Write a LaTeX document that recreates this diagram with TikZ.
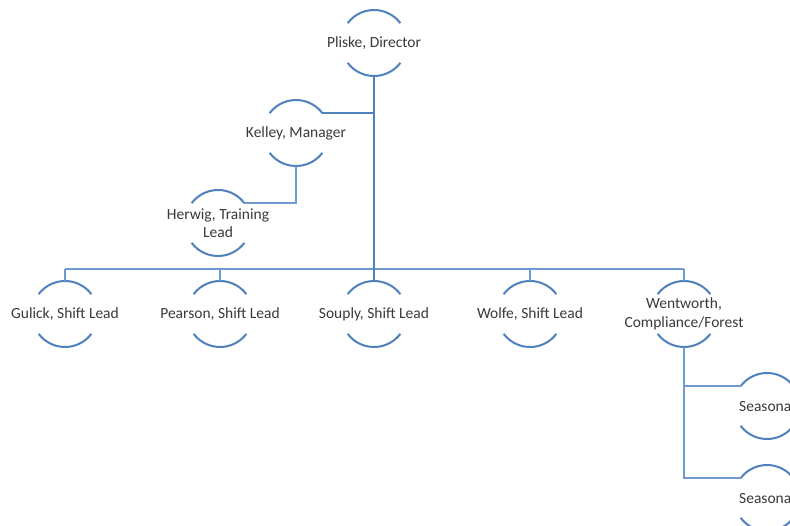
\documentclass[tikz,border=0pt]{standalone}
\usepackage{fontspec}
\setmainfont{Carlito}
\definecolor{linec}{HTML}{4F81BD}
\definecolor{busc}{HTML}{6E9BCF}
\definecolor{txtc}{HTML}{3A3A3A}
\tikzset{
  ring/.style={circle, draw=none, minimum size=66pt, inner sep=0pt, outer sep=0pt},
  txt/.style={font=\fontsize{15.5}{18.5}\selectfont, text=txtc, align=center, inner sep=0pt},
  arcline/.style={draw=linec, line width=2pt},
  trunk/.style={draw=linec, line width=2.2pt},
  conn/.style={draw=busc, line width=1.6pt}
}
\newcommand\orgperson[3]{%
  \node[ring] (#1) at (#2) {};
  \node[txt] (#1-t) at (#1.center) {#3};
  \draw[arcline] (#1.143) arc[start angle=143, end angle=37, radius=33pt];
  \draw[arcline] (#1.217) arc[start angle=217, end angle=323, radius=33pt];
}
\begin{document}
\begin{tikzpicture}[x=1pt,y=1pt]
\clip (0,0) rectangle (790,-525);
\fill[white] (0,0) rectangle (790,-525);
\orgperson{pliske}{374,-43}{Pliske, Director}
\orgperson{kelley}{296,-133}{Kelley, Manager}
\orgperson{herwig}{218,-223}{Herwig, Training\\Lead}
\orgperson{gulick}{65,-314}{Gulick, Shift Lead}
\orgperson{pearson}{220,-314}{Pearson, Shift Lead}
\orgperson{souply}{374,-314}{Souply, Shift Lead}
\orgperson{wolfe}{530,-314}{Wolfe, Shift Lead}
\orgperson{wentworth}{684,-314}{Wentworth,\\Compliance/Forest}
\orgperson{seasA}{767,-406}{Seasonal}
\orgperson{seasB}{767,-498}{Seasonal}
\coordinate (busL) at (65,-269);
\coordinate (busR) at (684,-269);
% connectors
\draw[conn] (busL) -- (busR);
\draw[conn] (gulick.north) -- (gulick.north |- busL);
\draw[conn] (pearson.north) -- (pearson.north |- busL);
\draw[conn] (wolfe.north) -- (wolfe.north |- busL);
\draw[conn] (wentworth.north) -- (wentworth.north |- busL);
\draw[trunk] (pliske.south) -- (souply.north);
\draw[trunk] (kelley.37) -- (kelley.37 -| pliske.south);
\draw[conn] (kelley.south) |- (herwig.37);
\draw[conn] (wentworth.south) |- (seasA.143);
\draw[conn] (wentworth.south) |- (seasB.143);
\end{tikzpicture}
\end{document}
